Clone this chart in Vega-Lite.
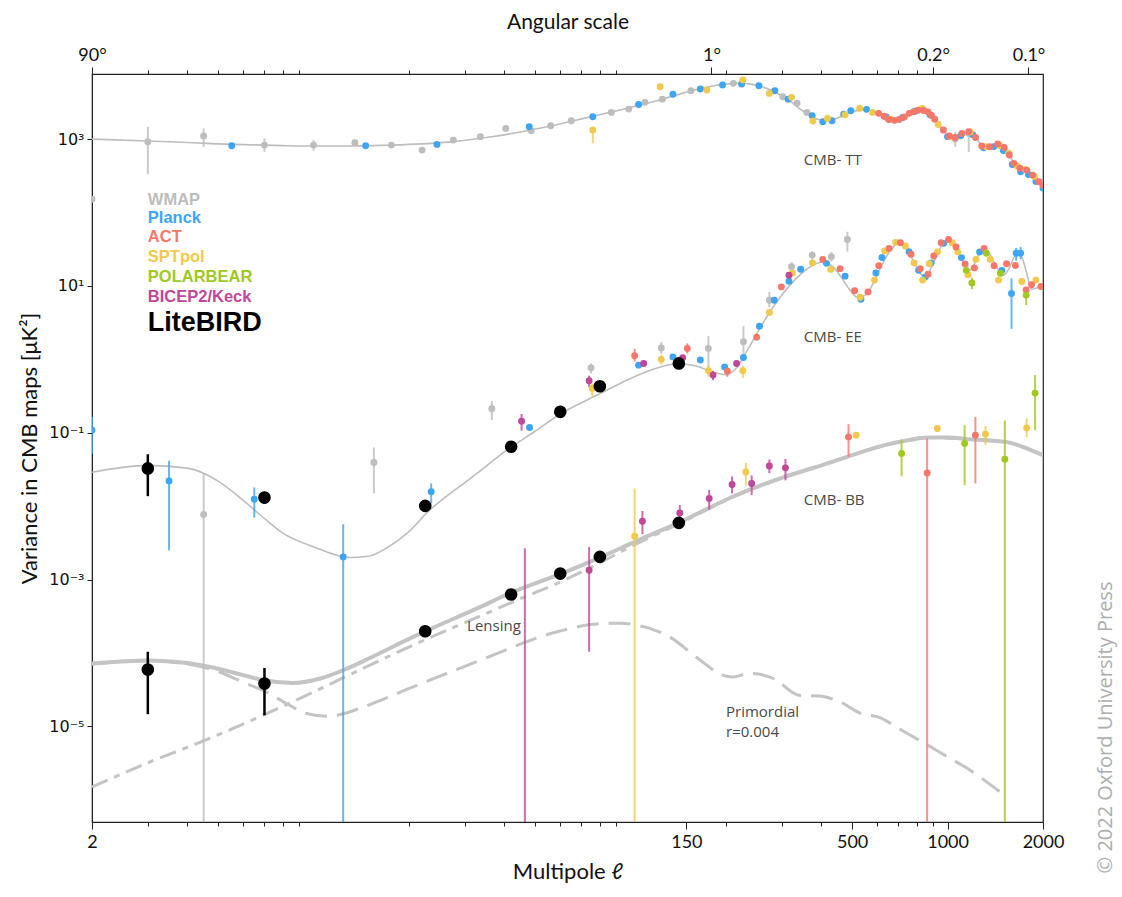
{
  "$schema": "https://vega.github.io/schema/vega-lite/v6.json",
  "width": 951,
  "height": 748,
  "autosize": {"type": "none"},
  "padding": {"left": 92, "top": 74, "right": 79, "bottom": 75},
  "background": "white",
  "config": {
    "view": {"stroke": "#222222", "strokeWidth": 1.2},
    "axis": {"grid": false, "labelFont": "Lato", "titleFont": "Lato", "labelColor": "#111111", "titleColor": "#111111", "tickColor": "#222222", "domainColor": "#222222", "titleFontWeight": "normal", "labelFlush": false, "labelOverlap": false, "labelFontSize": 18, "titleFontSize": 22}
  },
  "datasets": {
    "curves": [
      {"c":"TT","l":2,"v":1000},{"c":"TT","l":3,"v":940},{"c":"TT","l":4,"v":900},{"c":"TT","l":5,"v":860},{"c":"TT","l":6,"v":840},{"c":"TT","l":8,"v":815},{"c":"TT","l":10,"v":805},{"c":"TT","l":13,"v":805},{"c":"TT","l":17,"v":825},{"c":"TT","l":22,"v":860},{"c":"TT","l":28,"v":930},{"c":"TT","l":35,"v":1050},{"c":"TT","l":45,"v":1250},{"c":"TT","l":55,"v":1480},{"c":"TT","l":65,"v":1750},{"c":"TT","l":80,"v":2150},{"c":"TT","l":100,"v":2700},{"c":"TT","l":120,"v":3300},{"c":"TT","l":140,"v":4000},{"c":"TT","l":160,"v":4700},{"c":"TT","l":180,"v":5250},{"c":"TT","l":200,"v":5600},{"c":"TT","l":220,"v":5750},{"c":"TT","l":240,"v":5600},{"c":"TT","l":260,"v":5150},{"c":"TT","l":280,"v":4550},{"c":"TT","l":300,"v":3900},{"c":"TT","l":320,"v":3250},{"c":"TT","l":340,"v":2650},{"c":"TT","l":360,"v":2200},{"c":"TT","l":380,"v":1920},{"c":"TT","l":410,"v":1800},{"c":"TT","l":440,"v":1880},{"c":"TT","l":470,"v":2100},{"c":"TT","l":500,"v":2350},{"c":"TT","l":530,"v":2500},{"c":"TT","l":555,"v":2530},{"c":"TT","l":585,"v":2400},{"c":"TT","l":620,"v":2150},{"c":"TT","l":660,"v":1950},{"c":"TT","l":690,"v":1900},{"c":"TT","l":720,"v":1980},{"c":"TT","l":760,"v":2250},{"c":"TT","l":800,"v":2450},{"c":"TT","l":830,"v":2480},{"c":"TT","l":860,"v":2380},{"c":"TT","l":900,"v":2000},{"c":"TT","l":950,"v":1450},{"c":"TT","l":1000,"v":1150},{"c":"TT","l":1040,"v":1060},{"c":"TT","l":1080,"v":1120},{"c":"TT","l":1130,"v":1230},{"c":"TT","l":1170,"v":1240},{"c":"TT","l":1210,"v":1130},{"c":"TT","l":1260,"v":900},{"c":"TT","l":1300,"v":800},{"c":"TT","l":1350,"v":790},{"c":"TT","l":1420,"v":840},{"c":"TT","l":1460,"v":830},{"c":"TT","l":1510,"v":740},{"c":"TT","l":1560,"v":610},{"c":"TT","l":1620,"v":480},{"c":"TT","l":1700,"v":395},{"c":"TT","l":1780,"v":370},{"c":"TT","l":1850,"v":330},{"c":"TT","l":1920,"v":285},{"c":"TT","l":2000,"v":235},
      {"c":"EE","l":2,"v":0.029},{"c":"EE","l":3,"v":0.036},{"c":"EE","l":4,"v":0.033},{"c":"EE","l":5,"v":0.022},{"c":"EE","l":6,"v":0.012},{"c":"EE","l":7,"v":0.0068},{"c":"EE","l":8,"v":0.0043},{"c":"EE","l":10,"v":0.0028},{"c":"EE","l":13,"v":0.002},{"c":"EE","l":15,"v":0.0021},{"c":"EE","l":17,"v":0.0027},{"c":"EE","l":20,"v":0.0045},{"c":"EE","l":23,"v":0.0085},{"c":"EE","l":27,"v":0.015},{"c":"EE","l":30,"v":0.021},{"c":"EE","l":35,"v":0.035},{"c":"EE","l":40,"v":0.055},{"c":"EE","l":50,"v":0.105},{"c":"EE","l":60,"v":0.18},{"c":"EE","l":80,"v":0.34},{"c":"EE","l":100,"v":0.55},{"c":"EE","l":120,"v":0.75},{"c":"EE","l":140,"v":0.87},{"c":"EE","l":160,"v":0.82},{"c":"EE","l":180,"v":0.68},{"c":"EE","l":200,"v":0.62},{"c":"EE","l":215,"v":0.75},{"c":"EE","l":235,"v":1.4},{"c":"EE","l":260,"v":3.0},{"c":"EE","l":290,"v":6.2},{"c":"EE","l":320,"v":10.5},{"c":"EE","l":360,"v":17},{"c":"EE","l":400,"v":21},{"c":"EE","l":430,"v":19},{"c":"EE","l":460,"v":13.5},{"c":"EE","l":490,"v":9},{"c":"EE","l":520,"v":7},{"c":"EE","l":550,"v":7.5},{"c":"EE","l":590,"v":12},{"c":"EE","l":630,"v":22},{"c":"EE","l":670,"v":33},{"c":"EE","l":700,"v":38},{"c":"EE","l":740,"v":34},{"c":"EE","l":780,"v":22},{"c":"EE","l":820,"v":15},{"c":"EE","l":850,"v":13},{"c":"EE","l":890,"v":18},{"c":"EE","l":930,"v":28},{"c":"EE","l":970,"v":38},{"c":"EE","l":1010,"v":42},{"c":"EE","l":1060,"v":34},{"c":"EE","l":1110,"v":23},{"c":"EE","l":1160,"v":16},{"c":"EE","l":1200,"v":18},{"c":"EE","l":1260,"v":28},{"c":"EE","l":1310,"v":32},{"c":"EE","l":1360,"v":27},{"c":"EE","l":1420,"v":19},{"c":"EE","l":1500,"v":14},{"c":"EE","l":1560,"v":17},{"c":"EE","l":1640,"v":26},{"c":"EE","l":1700,"v":26},{"c":"EE","l":1770,"v":16},{"c":"EE","l":1840,"v":9},{"c":"EE","l":1920,"v":9.5},{"c":"EE","l":2000,"v":11},
      {"c":"BB","l":2,"v":0.000072},{"c":"BB","l":3,"v":0.000079},{"c":"BB","l":4,"v":0.000073},{"c":"BB","l":5,"v":0.000061},{"c":"BB","l":6,"v":0.00005},{"c":"BB","l":7,"v":0.0000425},{"c":"BB","l":8.6,"v":0.000039},{"c":"BB","l":10.5,"v":0.000045},{"c":"BB","l":12.7,"v":0.000061},{"c":"BB","l":15,"v":0.000085},{"c":"BB","l":20.6,"v":0.000166},{"c":"BB","l":33.6,"v":0.000425},{"c":"BB","l":42.5,"v":0.00068},{"c":"BB","l":60.5,"v":0.00121},{"c":"BB","l":81,"v":0.00204},{"c":"BB","l":103,"v":0.00327},{"c":"BB","l":141.5,"v":0.00593},{"c":"BB","l":215,"v":0.0141},{"c":"BB","l":306,"v":0.0251},{"c":"BB","l":400,"v":0.036},{"c":"BB","l":482,"v":0.047},{"c":"BB","l":633,"v":0.0678},{"c":"BB","l":750,"v":0.079},{"c":"BB","l":868,"v":0.0863},{"c":"BB","l":1000,"v":0.086},{"c":"BB","l":1170,"v":0.0818},{"c":"BB","l":1525,"v":0.0752},{"c":"BB","l":1750,"v":0.063},{"c":"BB","l":2000,"v":0.0495},
      {"c":"LENS","l":2,"v":0.0000015},{"c":"LENS","l":3,"v":0.0000032},{"c":"LENS","l":4.55,"v":0.0000065},{"c":"LENS","l":7,"v":0.0000145},{"c":"LENS","l":10,"v":0.0000295},{"c":"LENS","l":15,"v":0.000068},{"c":"LENS","l":20.6,"v":0.000128},{"c":"LENS","l":33.6,"v":0.00032},{"c":"LENS","l":45,"v":0.00055},{"c":"LENS","l":60,"v":0.00093},{"c":"LENS","l":80,"v":0.0017},{"c":"LENS","l":100,"v":0.0028},{"c":"LENS","l":140,"v":0.0056},{"c":"LENS","l":215,"v":0.0138},{"c":"LENS","l":306,"v":0.0248},{"c":"LENS","l":482,"v":0.0469},{"c":"LENS","l":633,"v":0.0677},{"c":"LENS","l":868,"v":0.0862},{"c":"LENS","l":1170,"v":0.0818},{"c":"LENS","l":1525,"v":0.0752},{"c":"LENS","l":2000,"v":0.0495},
      {"c":"PRIM","l":2,"v":0.000071},{"c":"PRIM","l":3,"v":0.000078},{"c":"PRIM","l":4,"v":0.000071},{"c":"PRIM","l":5,"v":0.000056},{"c":"PRIM","l":6,"v":0.00004},{"c":"PRIM","l":7.1,"v":0.0000295},{"c":"PRIM","l":8.3,"v":0.00002},{"c":"PRIM","l":9.5,"v":0.000015},{"c":"PRIM","l":11,"v":0.0000138},{"c":"PRIM","l":12.5,"v":0.000015},{"c":"PRIM","l":14.4,"v":0.0000185},{"c":"PRIM","l":20.6,"v":0.0000346},{"c":"PRIM","l":33.6,"v":0.00008},{"c":"PRIM","l":58.7,"v":0.000195},{"c":"PRIM","l":80,"v":0.000252},{"c":"PRIM","l":93,"v":0.000255},{"c":"PRIM","l":104.6,"v":0.00024},{"c":"PRIM","l":130,"v":0.000175},{"c":"PRIM","l":166,"v":0.00008},{"c":"PRIM","l":195,"v":0.00005},{"c":"PRIM","l":210,"v":0.0000473},{"c":"PRIM","l":238,"v":0.000053},{"c":"PRIM","l":283,"v":0.0000449},{"c":"PRIM","l":340,"v":0.0000266},{"c":"PRIM","l":396,"v":0.000026},{"c":"PRIM","l":458,"v":0.0000216},{"c":"PRIM","l":534,"v":0.000015},{"c":"PRIM","l":603,"v":0.0000135},{"c":"PRIM","l":716,"v":0.0000089},{"c":"PRIM","l":830,"v":0.0000062},{"c":"PRIM","l":1000,"v":0.00000385},{"c":"PRIM","l":1136,"v":0.0000028},{"c":"PRIM","l":1498,"v":0.00000119}
    ],
    "pts": [
      {"e":"WMAP","l":2,"v":152},{"e":"WMAP","l":3,"v":918,"lo":333,"hi":1472},{"e":"WMAP","l":4.5,"v":1099,"lo":785,"hi":1399},{"e":"WMAP","l":7,"v":828,"lo":671,"hi":1022},{"e":"WMAP","l":10,"v":828,"lo":693,"hi":969},{"e":"WMAP","l":13.5,"v":890},{"e":"WMAP","l":17.6,"v":828},{"e":"WMAP","l":22,"v":708},{"e":"WMAP","l":27.6,"v":969},{"e":"WMAP","l":33.6,"v":1075},{"e":"WMAP","l":40.4,"v":1399},{"e":"WMAP","l":48.6,"v":1297},{"e":"WMAP","l":56,"v":1523},{"e":"WMAP","l":65,"v":1776},{"e":"WMAP","l":87,"v":2310},{"e":"WMAP","l":98.7,"v":2560},{"e":"WMAP","l":111,"v":3165},{"e":"WMAP","l":126,"v":3500},{"e":"WMAP","l":155,"v":4570},{"e":"WMAP","l":211,"v":5740},{"e":"WMAP","l":302,"v":3770},{"e":"WMAP","l":335,"v":3070},{"e":"WMAP","l":360,"v":2310},{"e":"WMAP","l":1057,"v":1000,"lo":785,"hi":1250},{"e":"WMAP","l":1166,"v":1200,"lo":670,"hi":1330},
      {"e":"WMAP","l":4.5,"v":0.0077,"lo":0.0000001,"hi":0.0284},{"e":"WMAP","l":15.5,"v":0.0394,"lo":0.0149,"hi":0.063},{"e":"WMAP","l":36.5,"v":0.212,"lo":0.149,"hi":0.272},{"e":"WMAP","l":75,"v":0.766,"lo":0.643,"hi":0.879},{"e":"WMAP","l":125,"v":1.43,"lo":1.19,"hi":1.72},{"e":"WMAP","l":176,"v":1.41,"lo":0.79,"hi":2.07},{"e":"WMAP","l":227,"v":1.74,"lo":0.975,"hi":2.83},{"e":"WMAP","l":274,"v":6.4,"lo":5.1,"hi":8.3},{"e":"WMAP","l":322,"v":18.2,"lo":15.5,"hi":21},{"e":"WMAP","l":374,"v":26.3,"lo":22.5,"hi":30},{"e":"WMAP","l":430,"v":25,"lo":21.5,"hi":29},{"e":"WMAP","l":483,"v":43,"lo":29.3,"hi":54.6},
      {"e":"Planck","l":5.52,"v":811},{"e":"Planck","l":14.6,"v":811},{"e":"Planck","l":24.5,"v":847},{"e":"Planck","l":47.9,"v":1470},{"e":"Planck","l":76,"v":2014},{"e":"Planck","l":106,"v":2967},{"e":"Planck","l":136,"v":4070},{"e":"Planck","l":166,"v":4800},{"e":"Planck","l":195,"v":5440},{"e":"Planck","l":224,"v":5620},{"e":"Planck","l":254,"v":5320},{"e":"Planck","l":285,"v":4560},{"e":"Planck","l":314,"v":3500},{"e":"Planck","l":374,"v":2080},{"e":"Planck","l":404,"v":1720},{"e":"Planck","l":432,"v":1775},{"e":"Planck","l":470,"v":2190},{"e":"Planck","l":495,"v":2430},{"e":"Planck","l":555,"v":2540},{"e":"Planck","l":640,"v":2000},{"e":"Planck","l":720,"v":1960},{"e":"Planck","l":790,"v":2400},{"e":"Planck","l":880,"v":2150},{"e":"Planck","l":1000,"v":1080},{"e":"Planck","l":1100,"v":1110},{"e":"Planck","l":1200,"v":1150},{"e":"Planck","l":1300,"v":760},{"e":"Planck","l":1400,"v":790},{"e":"Planck","l":1500,"v":700},{"e":"Planck","l":1600,"v":450},{"e":"Planck","l":1700,"v":360},{"e":"Planck","l":1800,"v":330},{"e":"Planck","l":1900,"v":265},{"e":"Planck","l":2000,"v":215},
      {"e":"Planck","l":2,"v":0.108,"lo":0.052,"hi":0.165},{"e":"Planck","l":3.5,"v":0.0221,"lo":0.0025,"hi":0.0414},{"e":"Planck","l":6.5,"v":0.01245,"lo":0.007,"hi":0.018},{"e":"Planck","l":12.4,"v":0.00204,"lo":0.0000001,"hi":0.0057},{"e":"Planck","l":23.5,"v":0.0157,"lo":0.0109,"hi":0.0204},{"e":"Planck","l":48,"v":0.118},{"e":"Planck","l":106,"v":0.834},{"e":"Planck","l":136,"v":1.08},{"e":"Planck","l":166,"v":0.98},{"e":"Planck","l":198,"v":0.79},{"e":"Planck","l":227,"v":1.06},{"e":"Planck","l":255,"v":2.83},{"e":"Planck","l":284,"v":6.4},{"e":"Planck","l":316,"v":11.6},{"e":"Planck","l":344,"v":16.9},{"e":"Planck","l":415,"v":20.3},{"e":"Planck","l":475,"v":13.6},{"e":"Planck","l":533,"v":6.6},{"e":"Planck","l":594,"v":15},{"e":"Planck","l":621,"v":24.4},{"e":"Planck","l":756,"v":29.2},{"e":"Planck","l":810,"v":16.3},{"e":"Planck","l":851,"v":13.3},{"e":"Planck","l":887,"v":20.6},{"e":"Planck","l":972,"v":38},{"e":"Planck","l":1106,"v":24.3},{"e":"Planck","l":1262,"v":29},{"e":"Planck","l":1484,"v":16.3},{"e":"Planck","l":1591,"v":7.9,"lo":2.6,"hi":12.7},{"e":"Planck","l":1646,"v":28,"lo":22,"hi":33},{"e":"Planck","l":1700,"v":28,"lo":23,"hi":34},
      {"e":"SPTpol","l":76,"v":1326,"lo":875,"hi":1480},{"e":"SPTpol","l":124,"v":5160},{"e":"SPTpol","l":174,"v":4660},{"e":"SPTpol","l":226,"v":6370},{"e":"SPTpol","l":274,"v":4190},{"e":"SPTpol","l":322,"v":3700},{"e":"SPTpol","l":376,"v":1760},{"e":"SPTpol","l":418,"v":1910},{"e":"SPTpol","l":475,"v":2150},{"e":"SPTpol","l":528,"v":2620},{"e":"SPTpol","l":580,"v":2310},{"e":"SPTpol","l":660,"v":1880},{"e":"SPTpol","l":832,"v":2620},{"e":"SPTpol","l":934,"v":1580},{"e":"SPTpol","l":1020,"v":1080},{"e":"SPTpol","l":1180,"v":1250},{"e":"SPTpol","l":1320,"v":790},{"e":"SPTpol","l":1460,"v":820},{"e":"SPTpol","l":1560,"v":640},{"e":"SPTpol","l":1660,"v":430},{"e":"SPTpol","l":1760,"v":385},{"e":"SPTpol","l":1880,"v":310},
      {"e":"SPTpol","l":75.7,"v":0.4,"lo":0.31,"hi":0.47},{"e":"SPTpol","l":125,"v":1.0,"lo":0.85,"hi":1.15},{"e":"SPTpol","l":176,"v":0.7,"lo":0.58,"hi":0.82},{"e":"SPTpol","l":226,"v":0.7,"lo":0.56,"hi":0.82},{"e":"SPTpol","l":274,"v":4.36},{"e":"SPTpol","l":324,"v":15},{"e":"SPTpol","l":375,"v":20.6},{"e":"SPTpol","l":428,"v":16.8},{"e":"SPTpol","l":530,"v":7.0},{"e":"SPTpol","l":588,"v":12},{"e":"SPTpol","l":634,"v":30},{"e":"SPTpol","l":686,"v":39.2},{"e":"SPTpol","l":736,"v":35},{"e":"SPTpol","l":784,"v":20.6},{"e":"SPTpol","l":834,"v":12},{"e":"SPTpol","l":876,"v":20},{"e":"SPTpol","l":929,"v":29},{"e":"SPTpol","l":1034,"v":38.8},{"e":"SPTpol","l":1077,"v":29},{"e":"SPTpol","l":1160,"v":14.2},{"e":"SPTpol","l":1229,"v":23},{"e":"SPTpol","l":1364,"v":23},{"e":"SPTpol","l":1448,"v":12},{"e":"SPTpol","l":1715,"v":11.5},{"e":"SPTpol","l":1900,"v":12},
      {"e":"SPTpol","l":103,"v":0.0039,"lo":0.0000001,"hi":0.0174},{"e":"SPTpol","l":231,"v":0.0293,"lo":0.0189,"hi":0.0389},{"e":"SPTpol","l":515,"v":0.0927,"lo":0.085,"hi":0.1},{"e":"SPTpol","l":928,"v":0.1146,"lo":0.103,"hi":0.125},{"e":"SPTpol","l":1317,"v":0.0957,"lo":0.0687,"hi":0.1245},{"e":"SPTpol","l":1776,"v":0.1167,"lo":0.0868,"hi":0.157},
      {"e":"ACT","l":606,"v":2240},{"e":"ACT","l":630,"v":2050},{"e":"ACT","l":652,"v":1850},{"e":"ACT","l":680,"v":1800},{"e":"ACT","l":703,"v":1850},{"e":"ACT","l":730,"v":2000},{"e":"ACT","l":757,"v":2240},{"e":"ACT","l":780,"v":2350},{"e":"ACT","l":806,"v":2480},{"e":"ACT","l":840,"v":2450},{"e":"ACT","l":867,"v":2350},{"e":"ACT","l":890,"v":2100},{"e":"ACT","l":911,"v":1870},{"e":"ACT","l":970,"v":1330},{"e":"ACT","l":1011,"v":1100},{"e":"ACT","l":1057,"v":1050},{"e":"ACT","l":1110,"v":1195},{"e":"ACT","l":1166,"v":1260},{"e":"ACT","l":1225,"v":1050},{"e":"ACT","l":1281,"v":804},{"e":"ACT","l":1357,"v":786},{"e":"ACT","l":1440,"v":855},{"e":"ACT","l":1510,"v":770},{"e":"ACT","l":1566,"v":606},{"e":"ACT","l":1618,"v":467},{"e":"ACT","l":1690,"v":400},{"e":"ACT","l":1777,"v":378},{"e":"ACT","l":1855,"v":323},{"e":"ACT","l":1943,"v":262},{"e":"ACT","l":2000,"v":235},
      {"e":"ACT","l":103,"v":1.12,"lo":0.93,"hi":1.39},{"e":"ACT","l":151,"v":1.41,"lo":1.2,"hi":1.65},{"e":"ACT","l":202,"v":0.69,"lo":0.58,"hi":0.8},{"e":"ACT","l":250,"v":2.0},{"e":"ACT","l":299,"v":9.7},{"e":"ACT","l":404,"v":23},{"e":"ACT","l":458,"v":17.2},{"e":"ACT","l":509,"v":8.6},{"e":"ACT","l":561,"v":8.3},{"e":"ACT","l":607,"v":18.8},{"e":"ACT","l":654,"v":32.4},{"e":"ACT","l":710,"v":38.8},{"e":"ACT","l":767,"v":27},{"e":"ACT","l":820,"v":17.2},{"e":"ACT","l":868,"v":14.4},{"e":"ACT","l":905,"v":25.6},{"e":"ACT","l":954,"v":38.8},{"e":"ACT","l":1007,"v":43},{"e":"ACT","l":1063,"v":34},{"e":"ACT","l":1136,"v":19.9},{"e":"ACT","l":1215,"v":17.6},{"e":"ACT","l":1304,"v":32.4},{"e":"ACT","l":1402,"v":18.8},{"e":"ACT","l":1535,"v":20},{"e":"ACT","l":1637,"v":19},{"e":"ACT","l":1770,"v":8.8},{"e":"ACT","l":1840,"v":10.4},{"e":"ACT","l":1970,"v":9.8},
      {"e":"ACT","l":487,"v":0.0879,"lo":0.047,"hi":0.131},{"e":"ACT","l":862,"v":0.0284,"lo":0.0000001,"hi":0.0835},{"e":"ACT","l":1224,"v":0.0927,"lo":0.0204,"hi":0.165},
      {"e":"POLARBEAR","l":1145,"v":16.3},{"e":"POLARBEAR","l":1193,"v":11,"lo":9,"hi":13},{"e":"POLARBEAR","l":1326,"v":27.9},{"e":"POLARBEAR","l":1467,"v":14.9},{"e":"POLARBEAR","l":1770,"v":7.5,"lo":5.5,"hi":9.5},
      {"e":"POLARBEAR","l":716,"v":0.0523,"lo":0.0256,"hi":0.081},{"e":"POLARBEAR","l":1132,"v":0.0714,"lo":0.0193,"hi":0.127},{"e":"POLARBEAR","l":1516,"v":0.0437,"lo":0.0000001,"hi":0.147},{"e":"POLARBEAR","l":1888,"v":0.347,"lo":0.108,"hi":0.61},
      {"e":"BICEP2/Keck","l":45.3,"v":0.144,"lo":0.107,"hi":0.18},{"e":"BICEP2/Keck","l":74,"v":0.51,"lo":0.42,"hi":0.6},{"e":"BICEP2/Keck","l":110,"v":0.88},{"e":"BICEP2/Keck","l":146,"v":1.05},{"e":"BICEP2/Keck","l":182,"v":0.61,"lo":0.52,"hi":0.7},{"e":"BICEP2/Keck","l":216,"v":0.88},{"e":"BICEP2/Keck","l":316,"v":14},
      {"e":"BICEP2/Keck","l":46.4,"v":null,"lo":0.00000001,"hi":0.00268},{"e":"BICEP2/Keck","l":74,"v":0.00134,"lo":0.000104,"hi":0.00279},{"e":"BICEP2/Keck","l":109,"v":0.00625,"lo":0.00416,"hi":0.0086},{"e":"BICEP2/Keck","l":143,"v":0.0081,"lo":0.0063,"hi":0.0104},{"e":"BICEP2/Keck","l":177,"v":0.0127,"lo":0.009,"hi":0.0167},{"e":"BICEP2/Keck","l":209,"v":0.0198,"lo":0.015,"hi":0.0254},{"e":"BICEP2/Keck","l":241,"v":0.0204,"lo":0.0142,"hi":0.0263},{"e":"BICEP2/Keck","l":274,"v":0.0354,"lo":0.0282,"hi":0.0432},{"e":"BICEP2/Keck","l":308,"v":0.0333,"lo":0.0225,"hi":0.044},
      {"e":"LiteBIRD","l":3,"v":0.0327,"lo":0.0137,"hi":0.051},{"e":"LiteBIRD","l":7,"v":0.0131,"lo":0.0108,"hi":0.015},{"e":"LiteBIRD","l":22.5,"v":0.0101},{"e":"LiteBIRD","l":42,"v":0.0646},{"e":"LiteBIRD","l":60,"v":0.193},{"e":"LiteBIRD","l":80,"v":0.43},{"e":"LiteBIRD","l":142,"v":0.88},
      {"e":"LiteBIRD","l":3,"v":0.0000596,"lo":0.0000147,"hi":0.000104},{"e":"LiteBIRD","l":7,"v":0.0000384,"lo":0.0000142,"hi":0.0000627},{"e":"LiteBIRD","l":22.5,"v":0.000198},{"e":"LiteBIRD","l":42,"v":0.000627},{"e":"LiteBIRD","l":60,"v":0.00121},{"e":"LiteBIRD","l":80,"v":0.00204},{"e":"LiteBIRD","l":142,"v":0.00593}
    ],
    "texts": [
      {"k":"leg","t":"WMAP","e":"WMAP","l":3,"v":147.5},
      {"k":"leg","t":"Planck","e":"Planck","l":3,"v":84.8},
      {"k":"leg","t":"ACT","e":"ACT","l":3,"v":46.7},
      {"k":"leg","t":"SPTpol","e":"SPTpol","l":3,"v":24.9},
      {"k":"leg","t":"POLARBEAR","e":"POLARBEAR","l":3,"v":13.05},
      {"k":"leg","t":"BICEP2/Keck","e":"BICEP2/Keck","l":3,"v":6.97},
      {"k":"big","t":"LiteBIRD","e":"LiteBIRD","l":3,"v":3.08},
      {"k":"ann","t":"CMB- TT","l":352,"v":518},
      {"k":"ann","t":"CMB- EE","l":352,"v":2.0},
      {"k":"ann","t":"CMB- BB","l":352,"v":0.0121},
      {"k":"ann","t":"Lensing","l":30.5,"v":0.000232},
      {"k":"ann","t":"Primordial","l":200,"v":0.0000155},
      {"k":"ann","t":"r=0.004","l":200,"v":0.0000084}
    ]
  },
  "layer": [
    {
      "data": {"name": "curves"},
      "transform": [{"filter": "datum.c == 'TT' || datum.c == 'EE'"}],
      "mark": {"type": "line", "stroke": "#bdbdbd", "strokeWidth": 1.6, "interpolate": "monotone", "clip": true},
      "encoding": {
        "x": {"field": "l", "type": "quantitative", "scale": {"type": "log", "domain": [2, 2000], "nice": false},
              "axis": {"orient": "bottom", "values": [2, 150, 500, 1000, 2000], "format": "d", "tickSize": 7, "labelPadding": 4, "title": "Multipole ℓ", "titlePadding": 10}},
        "y": {"field": "v", "type": "quantitative", "scale": {"type": "log", "domain": [5e-7, 7700], "nice": false},
              "axis": {"orient": "left", "values": [0.00001, 0.001, 0.1, 10, 1000], "labelExpr": "datum.value >= 999 ? '10³' : datum.value >= 9 ? '10¹' : datum.value >= 0.09 ? '10⁻¹' : datum.value >= 0.0009 ? '10⁻³' : '10⁻⁵'", "labelFont": "DejaVu Sans", "labelFontSize": 16, "tickSize": 5, "labelPadding": 3, "title": "Variance in CMB maps [μK²]", "titleFontSize": 22, "titlePadding": 7}},
        "detail": {"field": "c"}
      }
    },
    {
      "data": {"name": "curves"},
      "transform": [{"filter": "datum.c == 'BB'"}],
      "mark": {"type": "line", "stroke": "#c4c4c4", "strokeWidth": 4, "interpolate": "monotone", "clip": true},
      "encoding": {
        "x": {"field": "l", "type": "quantitative", "scale": {"type": "log", "domain": [2, 2000], "nice": false},
              "axis": {"orient": "bottom", "values": [3, 4, 5, 6, 7, 8, 9, 20, 30, 40, 50, 60, 70, 80, 90, 200, 300, 400, 600, 700, 800, 900], "labels": false, "domain": false, "tickSize": 4, "title": null}},
        "y": {"field": "v", "type": "quantitative", "scale": {"type": "log", "domain": [5e-7, 7700], "nice": false},
              "axis": {"orient": "right", "labels": false, "ticks": false, "domain": false, "title": "© 2022 Oxford University Press", "titleAngle": 270, "titleX": 62, "titleY": 653, "titleAlign": "center", "titleBaseline": "middle", "titleFont": "Open Sans", "titleFontSize": 20, "titleColor": "#adadad"}}
      }
    },
    {
      "data": {"name": "curves"},
      "transform": [{"filter": "datum.c == 'LENS'"}],
      "mark": {"type": "line", "stroke": "#c4c4c4", "strokeWidth": 3, "strokeDash": [17, 7, 6, 7], "interpolate": "monotone", "clip": true},
      "encoding": {
        "x": {"field": "l", "type": "quantitative", "scale": {"type": "log", "domain": [2, 2000], "nice": false},
              "axis": {"orient": "top", "values": [2, 180, 900, 1800], "labelExpr": "datum.value < 3 ? '90°' : datum.value < 200 ? '1°' : datum.value < 1000 ? '0.2°' : '0.1°'", "tickSize": 7, "labelPadding": 3, "title": "Angular scale", "titleFontSize": 21, "titlePadding": 14}},
        "y": {"field": "v", "type": "quantitative", "scale": {"type": "log", "domain": [5e-7, 7700], "nice": false}, "axis": null}
      }
    },
    {
      "data": {"name": "curves"},
      "transform": [{"filter": "datum.c == 'PRIM'"}],
      "mark": {"type": "line", "stroke": "#c4c4c4", "strokeWidth": 3, "strokeDash": [22, 10], "interpolate": "monotone", "clip": true},
      "encoding": {
        "x": {"field": "l", "type": "quantitative", "scale": {"type": "log", "domain": [2, 2000], "nice": false},
              "axis": {"orient": "top", "values": [3, 4, 5, 6, 7, 8, 9, 20, 30, 40, 50, 60, 70, 80, 90, 200, 300, 400, 500, 600, 700, 800], "labels": false, "domain": false, "tickSize": 4, "title": null}},
        "y": {"field": "v", "type": "quantitative", "scale": {"type": "log", "domain": [5e-7, 7700], "nice": false}, "axis": null}
      }
    },
    {
      "data": {"name": "pts"},
      "transform": [{"filter": "datum.lo != null && datum.e != 'LiteBIRD'"}],
      "mark": {"type": "rule", "strokeWidth": 2, "opacity": 0.8, "clip": true},
      "encoding": {
        "x": {"field": "l", "type": "quantitative", "scale": {"type": "log", "domain": [2, 2000], "nice": false}, "axis": null},
        "y": {"field": "lo", "type": "quantitative", "scale": {"type": "log", "domain": [5e-7, 7700], "nice": false}, "axis": null},
        "y2": {"field": "hi"},
        "color": {"field": "e", "type": "nominal", "scale": {"domain": ["WMAP", "Planck", "ACT", "SPTpol", "POLARBEAR", "BICEP2/Keck", "LiteBIRD"], "range": ["#bdbdbd", "#3da5f4", "#f7786b", "#f2c94c", "#a0c81e", "#c0479a", "#000000"]}, "legend": null}
      }
    },
    {
      "data": {"name": "pts"},
      "transform": [{"filter": "datum.v != null && datum.e != 'LiteBIRD'"}],
      "mark": {"type": "circle", "size": 48, "opacity": 1, "clip": true},
      "encoding": {
        "x": {"field": "l", "type": "quantitative", "scale": {"type": "log", "domain": [2, 2000], "nice": false}, "axis": null},
        "y": {"field": "v", "type": "quantitative", "scale": {"type": "log", "domain": [5e-7, 7700], "nice": false}, "axis": null},
        "color": {"field": "e", "type": "nominal", "legend": null}
      }
    },
    {
      "data": {"name": "pts"},
      "transform": [{"filter": "datum.lo != null && datum.e == 'LiteBIRD'"}],
      "mark": {"type": "rule", "strokeWidth": 2.5, "color": "#000000", "clip": true},
      "encoding": {
        "x": {"field": "l", "type": "quantitative", "scale": {"type": "log", "domain": [2, 2000], "nice": false}, "axis": null},
        "y": {"field": "lo", "type": "quantitative", "scale": {"type": "log", "domain": [5e-7, 7700], "nice": false}, "axis": null},
        "y2": {"field": "hi"}
      }
    },
    {
      "data": {"name": "pts"},
      "transform": [{"filter": "datum.e == 'LiteBIRD'"}],
      "mark": {"type": "circle", "size": 160, "color": "#000000", "opacity": 1, "clip": true},
      "encoding": {
        "x": {"field": "l", "type": "quantitative", "scale": {"type": "log", "domain": [2, 2000], "nice": false}, "axis": null},
        "y": {"field": "v", "type": "quantitative", "scale": {"type": "log", "domain": [5e-7, 7700], "nice": false}, "axis": null}
      }
    },
    {
      "data": {"name": "texts"},
      "transform": [{"filter": "datum.k == 'leg'"}],
      "mark": {"type": "text", "align": "left", "baseline": "middle", "font": "Liberation Sans", "fontWeight": "bold", "fontSize": 16.5},
      "encoding": {
        "x": {"field": "l", "type": "quantitative", "scale": {"type": "log", "domain": [2, 2000], "nice": false}, "axis": null},
        "y": {"field": "v", "type": "quantitative", "scale": {"type": "log", "domain": [5e-7, 7700], "nice": false}, "axis": null},
        "text": {"field": "t"},
        "color": {"field": "e", "type": "nominal", "legend": null}
      }
    },
    {
      "data": {"name": "texts"},
      "transform": [{"filter": "datum.k == 'big'"}],
      "mark": {"type": "text", "align": "left", "baseline": "middle", "font": "Liberation Sans", "fontWeight": "bold", "fontSize": 27, "color": "#000000"},
      "encoding": {
        "x": {"field": "l", "type": "quantitative", "scale": {"type": "log", "domain": [2, 2000], "nice": false}, "axis": null},
        "y": {"field": "v", "type": "quantitative", "scale": {"type": "log", "domain": [5e-7, 7700], "nice": false}, "axis": null},
        "text": {"field": "t"}
      }
    },
    {
      "data": {"name": "texts"},
      "transform": [{"filter": "datum.k == 'ann'"}],
      "mark": {"type": "text", "align": "left", "baseline": "middle", "font": "Open Sans", "fontSize": 15, "color": "#4a4a4a"},
      "encoding": {
        "x": {"field": "l", "type": "quantitative", "scale": {"type": "log", "domain": [2, 2000], "nice": false}, "axis": null},
        "y": {"field": "v", "type": "quantitative", "scale": {"type": "log", "domain": [5e-7, 7700], "nice": false}, "axis": null},
        "text": {"field": "t"}
      }
    }
  ],
  "resolve": {"axis": {"x": "independent", "y": "independent"}}
}
